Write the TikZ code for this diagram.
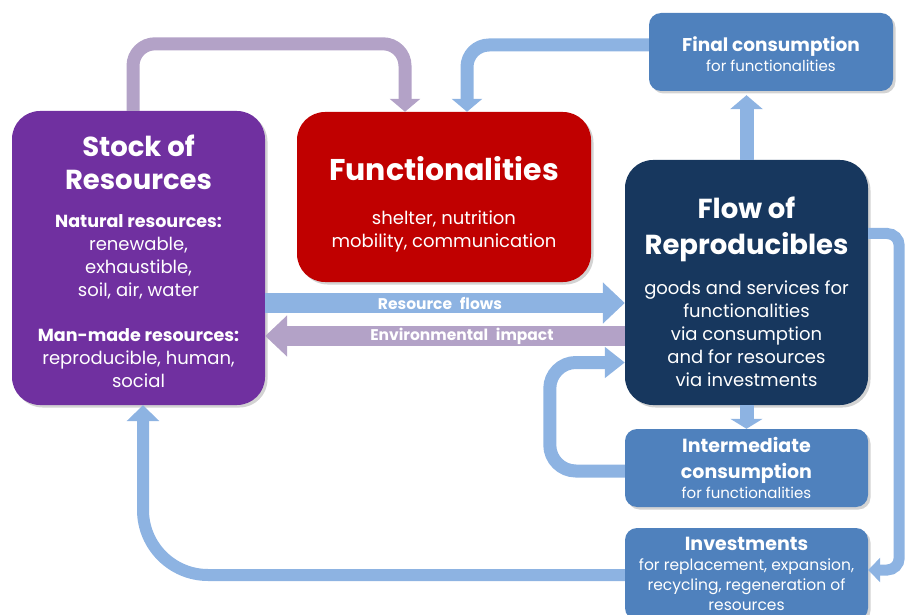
\documentclass[tikz,border=0pt]{standalone}
\usepackage{fontspec}
\setmainfont{Poppins}
\usetikzlibrary{arrows.meta,shadows}
\definecolor{stockpurple}{HTML}{7030A0}
\definecolor{funcred}{HTML}{C00000}
\definecolor{flownavy}{HTML}{17375E}
\definecolor{boxblue}{HTML}{4F81BD}
\definecolor{arrowblue}{HTML}{8DB3E2}
\definecolor{arrowpurple}{HTML}{B3A2C7}
\newcommand{\bigtitle}{\fontsize{27.5}{33}\selectfont\bfseries}
\newcommand{\subhead}{\fontsize{17.5}{22}\selectfont\bfseries}
\newcommand{\bodytext}{\fontsize{18}{23}\selectfont}
\newcommand{\smalltitle}{\fontsize{18.5}{22}\selectfont\bfseries}
\newcommand{\smallbody}{\fontsize{15}{20}\selectfont}
\tikzset{
    base-box/.style = {rectangle, rounded corners=28pt, text=white, inner sep=0pt, drop shadow={opacity=0.35, shadow xshift=2.5pt, shadow yshift=-2.5pt}},
    stock-box/.style = {base-box, fill=stockpurple, minimum width=253pt, minimum height=294pt},
    func-box/.style = {base-box, fill=funcred, minimum width=294pt, minimum height=170pt},
    flow-box/.style = {base-box, fill=flownavy, minimum width=243pt, minimum height=245pt},
    blue-box/.style = {base-box, rounded corners=12pt, fill=boxblue, minimum width=243pt},
    blue-arrow/.style = {draw=arrowblue, line width=13pt, rounded corners=22pt, -{Triangle[width=30pt,length=13pt]}},
    purple-arrow/.style = {draw=arrowpurple, line width=13pt, rounded corners=22pt, -{Triangle[width=30pt,length=13pt]}},
    band-label/.style = {text=white, font=\fontsize{15.5}{17}\selectfont\bfseries},
}

\begin{document}
\begin{tikzpicture}[x=1pt,y=-1pt]
\useasboundingbox (0,0) rectangle (906,615);

% boxes
\node [stock-box] (stock) at (138.5,258) {\begin{minipage}{248pt}\centering
    \vspace*{6pt}
    {\bigtitle Stock of\\Resources\par}
    \vspace{16pt}
    {\subhead Natural resources:\par}
    {\bodytext renewable,\\exhaustible,\\soil, air, water\par}
    \vspace{23pt}
    {\subhead Man-made resources:\par}
    {\bodytext reproducible, human,\\social\par}
\end{minipage}};
\node [func-box] (func) at (444,197) {\begin{minipage}{285pt}\centering
    \vspace*{14pt}
    {\fontsize{30}{36}\selectfont\bfseries Functionalities\par}
    \vspace{21pt}
    {\bodytext shelter, nutrition\\mobility, communication\par}
\end{minipage}};
\node [flow-box] (flow) at (746.5,282.5) {\begin{minipage}{238pt}\centering
    \vspace*{19pt}
    {\bigtitle\fontsize{27.5}{36}\selectfont Flow of\\Reproducibles\par}
    \vspace{17pt}
    {\bodytext goods and services for\\functionalities\\via consumption\\and for resources\\via investments\par}
\end{minipage}};
\node [blue-box, minimum width=244pt, minimum height=78pt] (final) at (771,52) {\begin{minipage}{238pt}\centering
    \vspace*{4pt}
    {\smalltitle Final consumption\par}
    {\smallbody for functionalities\par}
\end{minipage}};
\node [blue-box, minimum height=78pt] (inter) at (746.5,468) {\begin{minipage}{238pt}\centering
    {\smalltitle\fontsize{19}{26}\selectfont Intermediate\\consumption\par}
    {\smallbody for functionalities\par}
\end{minipage}};
\node [blue-box, minimum height=92pt] (inv) at (746.5,574) {\begin{minipage}{238pt}\centering
    {\smalltitle\fontsize{19}{21}\selectfont Investments\par}
    {\fontsize{15.5}{20}\selectfont for replacement, expansion,\\recycling, regeneration of\\resources\par}
\end{minipage}};

% connectors
\draw [purple-arrow] ([xshift=-5.5pt]stock.north) -- ++(0,-67) -| ([xshift=-39pt]func.north);
\draw [blue-arrow] ([yshift=7pt]final.west) -| ([xshift=23pt]func.north);
\draw [blue-arrow, line width=14pt, -{Triangle[width=32pt,length=14pt]}] (flow.north) -- ([yshift=-4pt]flow.north |- final.south);
\draw [blue-arrow, line width=20pt, -{Triangle[width=40pt,length=22pt]}] ([yshift=-45pt]stock.east) -- ([yshift=-45pt]stock.east -| flow.west) node [band-label, midway, xshift=-5pt] {Resource\enspace flows};
\draw [purple-arrow, line width=20pt, -{Triangle[width=40pt,length=22pt]}] ([yshift=-53.5pt]flow.west) -- ([yshift=-53.5pt]flow.west -| stock.east) node [band-label, midway, xshift=17pt] {Environmental\enspace impact};
\draw [blue-arrow, rounded corners=26pt, -{Triangle[width=30pt,length=20pt]}] ([yshift=-3pt]inter.west) -- ++(-75,0) |- ([yshift=-80pt]flow.west);
\draw [blue-arrow, line width=14pt, -{Triangle[width=32pt,length=10pt]}] (flow.south) -- (inter.north);
\draw [blue-arrow, line width=11pt, rounded corners=12pt, -{Triangle[width=24pt,length=12pt]}] ([yshift=49pt]flow.east) -- ++(31,0) |- ([yshift=4pt]inv.east);
\draw [blue-arrow, line width=12pt, rounded corners=65pt, -{Triangle[width=32pt,length=16pt]}] ([yshift=-1pt]inv.west) -| ([xshift=4.5pt]stock.south);
\end{tikzpicture}
\end{document}
